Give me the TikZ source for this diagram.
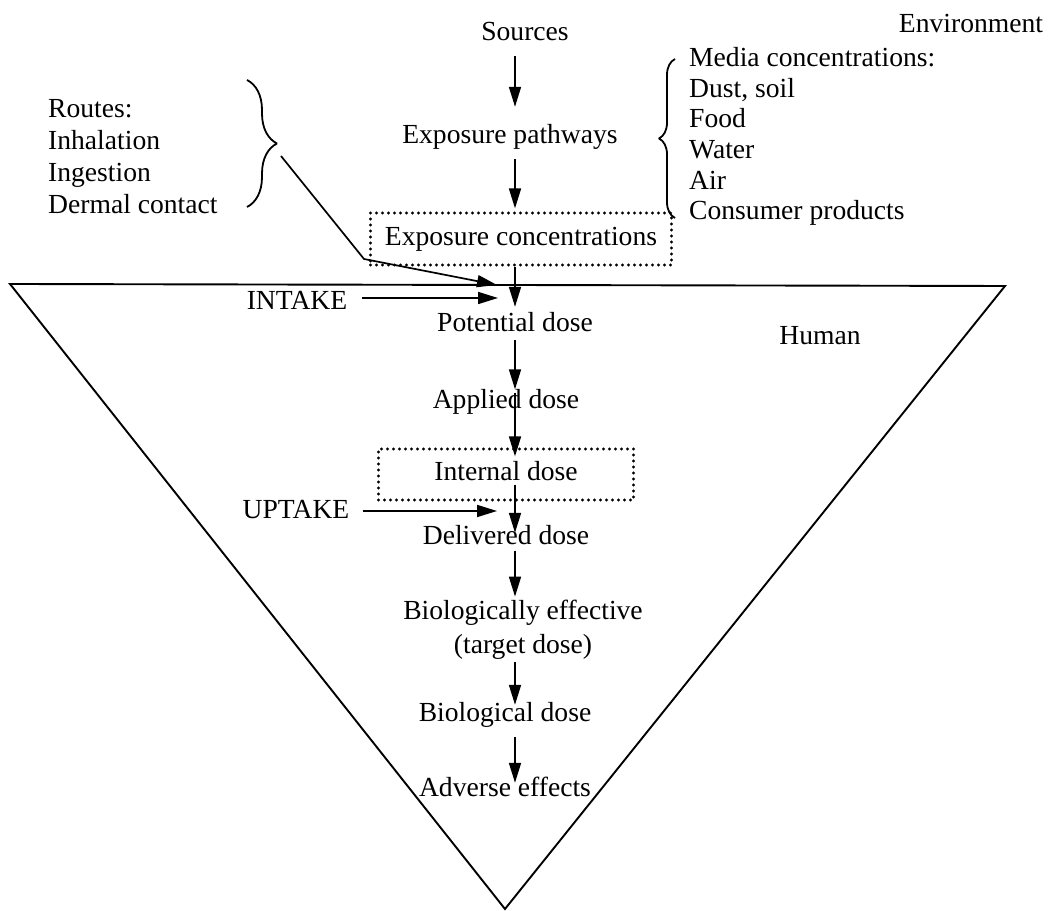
\documentclass[tikz,border=0pt]{standalone}
\usepackage{fontspec}
\setmainfont{Liberation Serif}
\usetikzlibrary{arrows.meta,decorations.pathreplacing}
\begin{document}
\begin{tikzpicture}[>={Triangle[length=20bp,width=12bp]},line join=bevel,
  txt/.style={font=\fontsize{27.6bp}{31bp}\selectfont,inner sep=0pt,text height=19bp,text depth=6bp},
  lst/.style={font=\fontsize{27.6bp}{#1}\selectfont,inner sep=0pt,align=left,anchor=west},
  dotbox/.style={draw,line width=3.2bp,line cap=round,dash pattern=on 0bp off 6bp},
  flow/.style={->,line width=1.7bp},
  brc/.style={line width=1.8bp,decorate,decoration={brace,amplitude=#1}}]
%%
\useasboundingbox (0bp,0bp) rectangle (1049bp,911bp);
\fill[white] (0bp,0bp) rectangle (1049bp,911bp);
%% the human
\draw[line width=1.9bp,line join=miter] (10bp,627bp) -- (1005bp,625bp) -- (505bp,2bp) -- cycle;
%%
  \node (sources) at (525bp,877bp) [txt] {Sources};
  \node (environment) at (971bp,885bp) [txt] {Environment};
  \node (pathways) at (510bp,774bp) [txt] {Exposure pathways};
  \node (expconc) at (521bp,672bp) [txt,dotbox,minimum width=301bp,minimum height=52bp] {Exposure concentrations};
  \node (routes) at (48bp,754bp) [lst=32bp] {Routes:\\Inhalation\\Ingestion\\Dermal contact};
  \node (media) at (689bp,774.5bp) [lst=30.6bp] {Media concentrations:\\Dust, soil\\Food\\Water\\Air\\Consumer products};
  \node (intake) at (297bp,608bp) [txt] {INTAKE};
  \node (potential) at (515bp,586bp) [txt] {Potential dose};
  \node (human) at (820bp,573bp) [txt] {Human};
  \node (applied) at (506bp,509bp) [txt] {Applied dose};
  \node (internal) at (506bp,436.5bp) [txt,dotbox,minimum width=255bp,minimum height=51bp] {Internal dose};
  \node (uptake) at (296bp,399bp) [txt] {UPTAKE};
  \node (delivered) at (506bp,373bp) [txt] {Delivered dose};
  \node (bioeff) at (523bp,281bp) [font=\fontsize{27.6bp}{34bp}\selectfont,inner sep=0pt,align=center] {Biologically effective\\(target dose)};
  \node (biological) at (505bp,196bp) [txt] {Biological dose};
  \node (adverse) at (505bp,121bp) [txt] {Adverse effects};
%%
  \coordinate (spine) at (515bp,0bp);
  \coordinate (routetip) at (281bp,755bp);
  \coordinate (bend) at (364bp,652bp);
  \coordinate (entry) at (497bp,626bp);
  \coordinate (intakeend) at (498bp,613bp);
  \coordinate (uptakeend) at (497bp,400bp);
%% braces
  \draw[brc=30bp] (247bp,831bp) -- (247bp,704bp);
  \draw[brc=16bp] (675bp,693bp) -- (675bp,852bp);
%% main chain
  \draw[flow,shorten <=9.5bp,shorten >=17.5bp] (sources.south -| spine) -- (pathways.north -| spine);
  \draw[flow,shorten <=9.5bp,shorten >=3bp] (pathways.south -| spine) -- (expconc.north -| spine);
  \draw[flow,shorten >=5.5bp] (expconc.south -| spine) -- (potential.north -| spine);
  \draw[flow,shorten <=2.5bp] (potential.south -| spine) -- (applied.north -| spine);
  \draw[flow,shorten <=3.5bp,shorten >=-9bp] (applied.north -| spine) -- (internal.north -| spine);
  \draw[flow,shorten <=-17bp,shorten >=-7.5bp] (internal.south -| spine) -- (delivered.north -| spine);
  \draw[flow,shorten >=3.5bp] (delivered.south -| spine) -- (bioeff.north -| spine);
  \draw[flow,shorten <=2.5bp,shorten >=-2.5bp] (bioeff.south -| spine) -- (biological.north -| spine);
  \draw[flow,shorten <=9.5bp,shorten >=-5.5bp] (biological.south -| spine) -- (adverse.north -| spine);
%% routes, intake, uptake
  \draw[flow] (routetip) -- (bend) -- (entry);
  \draw[flow,shorten <=15bp] (intake.east |- intakeend) -- (intakeend);
  \draw[flow,shorten <=13bp] (uptake.east |- uptakeend) -- (uptakeend);
%
\end{tikzpicture}
\end{document}
